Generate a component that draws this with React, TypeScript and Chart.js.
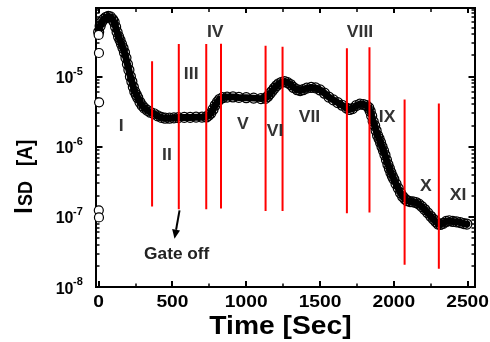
import { useEffect, useRef } from "react";
import { Chart, registerables } from "chart.js";

Chart.register(...registerables);

// ---- data ----
const times = [0, 10, 20, 35, 50, 65, 80, 95, 105, 115, 125, 135, 145, 155, 165, 175, 185, 195, 205, 215, 225, 235, 245, 255, 265, 280, 295, 310, 330, 350, 375, 400, 425, 450, 480, 510, 540, 580, 620, 660, 700, 730, 745, 760, 775, 790, 805, 820, 840, 870, 910, 950, 1000, 1050, 1100, 1130, 1145, 1160, 1175, 1190, 1205, 1220, 1240, 1260, 1280, 1300, 1320, 1345, 1365, 1385, 1410, 1440, 1470, 1500, 1530, 1560, 1590, 1620, 1650, 1680, 1700, 1720, 1745, 1770, 1795, 1815, 1830, 1840, 1850, 1860, 1870, 1880, 1890, 1900, 1910, 1920, 1930, 1940, 1950, 1960, 1970, 1980, 1990, 2000, 2015, 2030, 2045, 2060, 2075, 2090, 2110, 2130, 2150, 2170, 2190, 2210, 2230, 2250, 2270, 2285, 2300, 2315, 2335, 2355, 2375, 2400, 2425, 2450, 2475, 2495];
const currents = [4.32e-5, 5.26e-5, 6.0e-5, 6.6e-5, 7.0e-5, 7.2e-5, 7.1e-5, 6.5e-5, 6.0e-5, 5.1e-5, 4.3e-5, 3.7e-5, 3.3e-5, 2.9e-5, 2.55e-5, 2.2e-5, 1.85e-5, 1.5e-5, 1.24e-5, 1.0e-5, 8.5e-6, 7.1e-6, 6.1e-6, 5.5e-6, 5.0e-6, 4.3e-6, 3.85e-6, 3.55e-6, 3.3e-6, 3.1e-6, 2.95e-6, 2.75e-6, 2.62e-6, 2.55e-6, 2.55e-6, 2.58e-6, 2.6e-6, 2.62e-6, 2.62e-6, 2.64e-6, 2.64e-6, 2.66e-6, 2.8e-6, 3.0e-6, 3.4e-6, 3.9e-6, 4.35e-6, 4.75e-6, 5.0e-6, 5.1e-6, 5.12e-6, 5.05e-6, 5.0e-6, 4.93e-6, 4.85e-6, 4.9e-6, 5.2e-6, 5.7e-6, 6.2e-6, 6.8e-6, 7.4e-6, 7.9e-6, 8.3e-6, 8.5e-6, 8.2e-6, 7.7e-6, 7.0e-6, 6.5e-6, 6.3e-6, 6.5e-6, 6.85e-6, 7.0e-6, 6.9e-6, 6.45e-6, 5.8e-6, 5.1e-6, 4.65e-6, 4.25e-6, 3.9e-6, 3.55e-6, 3.4e-6, 3.5e-6, 3.85e-6, 4.05e-6, 4.0e-6, 3.85e-6, 3.6e-6, 3.2e-6, 2.75e-6, 2.3e-6, 2.0e-6, 1.7e-6, 1.45e-6, 1.3e-6, 1.15e-6, 1.0e-6, 8.8e-7, 7.6e-7, 6.5e-7, 5.6e-7, 4.9e-7, 4.3e-7, 3.8e-7, 3.45e-7, 2.95e-7, 2.55e-7, 2.2e-7, 1.95e-7, 1.8e-7, 1.7e-7, 1.65e-7, 1.64e-7, 1.6e-7, 1.52e-7, 1.4e-7, 1.27e-7, 1.14e-7, 1.02e-7, 9.2e-8, 8.5e-8, 7.9e-8, 7.8e-8, 8.1e-8, 8.6e-8, 8.8e-8, 8.6e-8, 8.5e-8, 8.3e-8, 8.0e-8, 7.9e-8];

const strayTimes = [0, 2, 3, 1, 2];
const strayCurrents = [3.92e-5, 2.17e-5, 4.3e-6, 1.24e-7, 9.8e-8];

const markerTimes = [362, 543, 729, 829, 1131, 1246, 1682, 1835, 2073, 2305];
const markerTops = [1.66e-5, 2.91e-5, 2.91e-5, 2.94e-5, 2.75e-5, 2.67e-5, 2.53e-5, 2.61e-5, 4.72e-6, 4.14e-6];
const markerBottoms = [1.41e-7, 1.28e-7, 1.28e-7, 1.32e-7, 1.21e-7, 1.21e-7, 1.13e-7, 1.15e-7, 2.08e-8, 1.82e-8];

const regionLabels = ["I", "II", "III", "IV", "V", "VI", "VII", "VIII", "IX", "X", "XI"];
const labelTimes = [152, 463, 627, 790, 977, 1196, 1428, 1771, 1955, 2217, 2436];
const labelCurrents = [1.96e-6, 7.56e-7, 1.05e-5, 4.18e-5, 2.1e-6, 1.63e-6, 2.61e-6, 4.18e-5, 2.61e-6, 2.73e-7, 2.03e-7];

const gateText = "Gate off";
const gateTextPos = { t: 529, v: 2.91e-8 };
const gateArrowFrom = { t: 548, v: 1.24e-7 };
const gateArrowTo = { t: 514, v: 4.89e-8 };

const xMajorTicks = [0, 500, 1000, 1500, 2000, 2500];
const xMinorTicks = [250, 750, 1250, 1750, 2250];
const yDecades = [-8, -7, -6, -5];
const xMin = -18;
const xMax = 2550;
const yMin = 1e-8;
const yMax = 9.5e-5;

const xTitle = "Time [Sec]";
const FONT = '"Liberation Sans", Arial, sans-serif';
const STRETCH = 1.13;

function sText(ctx: CanvasRenderingContext2D, text: string, x: number, y: number, align: CanvasTextAlign, stretch = STRETCH) {
  ctx.save();
  ctx.translate(x, y);
  ctx.scale(stretch, 1);
  ctx.textAlign = align;
  ctx.fillText(text, 0, 0);
  ctx.restore();
}

const framePlugin = {
  id: "frameTicks",
  beforeDatasetsDraw(chart: any) {
    const { ctx, chartArea } = chart;
    const { left, right, top, bottom } = chartArea;
    const xs = chart.scales.x;
    const ys = chart.scales.y;
    ctx.save();
    ctx.strokeStyle = "#000";
    ctx.lineWidth = 2;
    ctx.strokeRect(left, top, right - left, bottom - top);
    const vline = (px: number, y0: number, y1: number, w: number) => {
      ctx.lineWidth = w;
      ctx.beginPath();
      ctx.moveTo(px, y0);
      ctx.lineTo(px, y1);
      ctx.stroke();
    };
    const hline = (py: number, x0: number, x1: number, w: number) => {
      ctx.lineWidth = w;
      ctx.beginPath();
      ctx.moveTo(x0, py);
      ctx.lineTo(x1, py);
      ctx.stroke();
    };
    xMajorTicks.forEach((v) => {
      const px = Math.round(xs.getPixelForValue(v));
      vline(px, bottom, bottom - 6, 2);
      vline(px, top, top + 5, 2);
    });
    xMinorTicks.forEach((v) => {
      const px = Math.round(xs.getPixelForValue(v));
      vline(px, bottom, bottom - 3.5, 1.5);
      vline(px, top, top + 4, 1.5);
    });
    yDecades.forEach((k) => {
      for (let m = 1; m <= 9; m++) {
        const v = m * Math.pow(10, k);
        if (v < yMin || v > yMax) continue;
        const py = Math.round(ys.getPixelForValue(v));
        const len = m === 1 ? 6.5 : 3.5;
        const w = m === 1 ? 2 : 1.5;
        hline(py, left, left + len, w);
        hline(py, right, right - len, w);
      }
    });
    ctx.restore();
  },
  afterDraw(chart: any) {
    const { ctx, chartArea } = chart;
    const { left, right, bottom } = chartArea;
    const xs = chart.scales.x;
    const ys = chart.scales.y;
    ctx.save();
    ctx.fillStyle = "#000";
    ctx.textBaseline = "alphabetic";
    // x tick labels
    ctx.font = `bold 17px ${FONT}`;
    xMajorTicks.forEach((v) => {
      sText(ctx, String(v), xs.getPixelForValue(v), bottom + 20, "center");
    });
    // y tick labels
    yDecades.forEach((k) => {
      const py = ys.getPixelForValue(Math.pow(10, k));
      ctx.font = `bold 16px ${FONT}`;
      sText(ctx, "10", 73.5, py + 6.5, "right", 1.0);
      ctx.font = `bold 11px ${FONT}`;
      sText(ctx, `-${-k}`, 73, py - 2, "left", 1.0);
    });
    // x title
    ctx.font = `bold 25px ${FONT}`;
    sText(ctx, xTitle, (left + right) / 2 - 5, 334, "center");
    // y title (rotated)
    ctx.save();
    ctx.translate(31.5, 175);
    ctx.scale(STRETCH, 1);
    ctx.rotate(-Math.PI / 2);
    ctx.textAlign = "center";
    ctx.font = `bold 23px ${FONT}`;
    ctx.fillText("I", -35.5, 0);
    ctx.textAlign = "left";
    ctx.font = `bold 18px ${FONT}`;
    ctx.fillText("SD", -31, 0);
    ctx.font = `bold 19px ${FONT}`;
    ctx.fillText("[A]", 9, 0);
    ctx.restore();
    // region labels
    ctx.fillStyle = "#333";
    ctx.font = `bold 16px ${FONT}`;
    ctx.textBaseline = "middle";
    regionLabels.forEach((lab, i) => {
      sText(ctx, lab, xs.getPixelForValue(labelTimes[i]), ys.getPixelForValue(labelCurrents[i]), "center", 1.1);
    });
    // gate off
    ctx.fillStyle = "#222";
    ctx.font = `bold 16px ${FONT}`;
    sText(ctx, gateText, xs.getPixelForValue(gateTextPos.t), ys.getPixelForValue(gateTextPos.v), "center", 1.08);
    // arrow
    const x0 = xs.getPixelForValue(gateArrowFrom.t);
    const y0 = ys.getPixelForValue(gateArrowFrom.v);
    const x1 = xs.getPixelForValue(gateArrowTo.t);
    const y1 = ys.getPixelForValue(gateArrowTo.v);
    const ang = Math.atan2(y1 - y0, x1 - x0);
    const hl = 9;
    const hw = 4;
    const bx = x1 - hl * Math.cos(ang);
    const by = y1 - hl * Math.sin(ang);
    ctx.strokeStyle = "#000";
    ctx.fillStyle = "#000";
    ctx.lineWidth = 2;
    ctx.beginPath();
    ctx.moveTo(x0, y0);
    ctx.lineTo(bx, by);
    ctx.stroke();
    ctx.beginPath();
    ctx.moveTo(x1, y1);
    ctx.lineTo(bx + hw * Math.sin(ang), by - hw * Math.cos(ang));
    ctx.lineTo(bx - hw * Math.sin(ang), by + hw * Math.cos(ang));
    ctx.closePath();
    ctx.fill();
    ctx.restore();
  },
};

export default function App() {
  const ref = useRef<HTMLCanvasElement | null>(null);
  useEffect(() => {
    document.body.style.margin = "0";
    const canvas = ref.current;
    if (!canvas) return;
    const markerSets = markerTimes.map((t, i) => ({
      data: [
        { x: t, y: markerTops[i] },
        { x: t, y: markerBottoms[i] },
      ],
      showLine: true,
      borderColor: "#ff0000",
      borderWidth: 2,
      pointRadius: 0,
      order: 0,
    }));
    const chart = new Chart(canvas, {
      type: "scatter",
      data: {
        datasets: [
          ...markerSets,
          {
            data: strayTimes.map((t, i) => ({ x: t, y: strayCurrents[i] })),
            showLine: false,
            pointRadius: 4.5,
            pointBorderWidth: 1.2,
            pointBorderColor: "#000",
            pointBackgroundColor: "#fff",
            clip: false,
            order: 1,
          },
          {
            data: times.map((t, i) => ({ x: t, y: currents[i] })),
            showLine: true,
            borderColor: "#000",
            borderWidth: 7,
            borderJoinStyle: "round",
            borderCapStyle: "round",
            pointRadius: 5,
            pointBorderWidth: 1.2,
            pointBorderColor: "#000",
            pointBackgroundColor: "rgba(255,255,255,0)",
            clip: false,
            order: 2,
          },
        ] as any,
      },
      options: {
        responsive: false,
        animation: false,
        devicePixelRatio: 1,
        layout: { padding: { left: 96, right: 15, top: 8, bottom: 55 } },
        plugins: { legend: { display: false }, tooltip: { enabled: false } },
        scales: {
          x: { type: "linear", min: xMin, max: xMax, display: false },
          y: { type: "logarithmic", min: yMin, max: yMax, display: false },
        },
      },
      plugins: [framePlugin],
    });
    return () => chart.destroy();
  }, []);
  return (
    <div style={{ position: "absolute", left: 0, top: 0, width: 490, height: 342 }}>
      <canvas ref={ref} width={490} height={342} style={{ display: "block" }} />
    </div>
  );
}
